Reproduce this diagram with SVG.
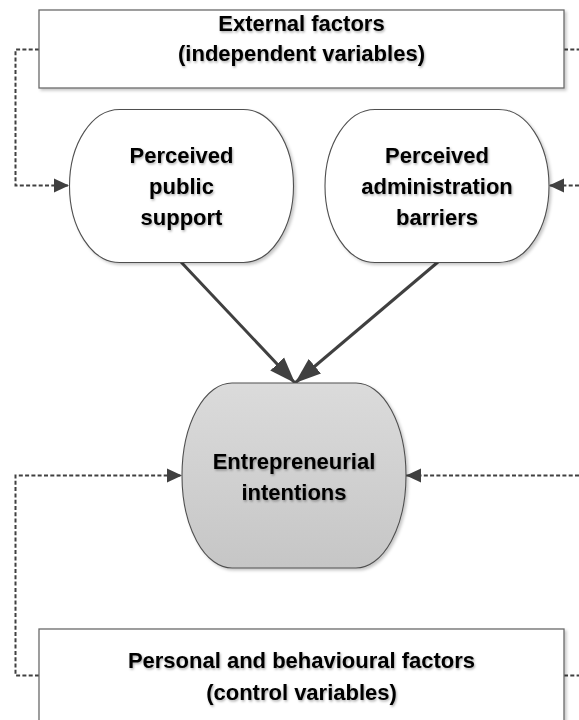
<svg xmlns="http://www.w3.org/2000/svg" width="579" height="720" viewBox="0 0 579 720">
<style>
.box{fill:#fff;stroke:#6a6a6a;stroke-width:1.3}
.oval{fill:#fff;stroke:#505050;stroke-width:1.1}
.core{fill:url(#g);stroke:#505050;stroke-width:1.1}
.t{font-family:"Liberation Sans",Arial,sans-serif;font-weight:bold;font-size:22px;fill:#000;text-anchor:middle}
.dash{fill:none;stroke:#404040;stroke-width:2;stroke-dasharray:4 2.3}
.solid{fill:none;stroke:#404040;stroke-width:3}
</style>
<defs>
<linearGradient id="g" x1="0" y1="0" x2="0" y2="1">
<stop offset="0" stop-color="#dbdbdb"/>
<stop offset="1" stop-color="#c6c6c6"/>
</linearGradient>
<filter id="sh" x="-10%" y="-10%" width="125%" height="125%">
<feDropShadow dx="2" dy="2" stdDeviation="1.5" flood-color="#000" flood-opacity="0.22"/>
</filter>
<filter id="ts" x="-5%" y="-20%" width="110%" height="150%">
<feDropShadow dx="1" dy="1.5" stdDeviation="1.2" flood-color="#000" flood-opacity="0.32"/>
</filter>
<marker id="ad" markerUnits="userSpaceOnUse" markerWidth="16" markerHeight="15" refX="15" refY="7" orient="auto" viewBox="0 0 16 14">
<path d="M0,0 L15,7 L0,14 Z" fill="#404040"/>
</marker>
<marker id="as" markerUnits="userSpaceOnUse" markerWidth="27" markerHeight="20" refX="26" refY="9.5" orient="auto" viewBox="0 0 27 19">
<path d="M0,0 L26,9.5 L0,19 Z" fill="#404040"/>
</marker>
</defs>

<g id="connectors">
<path class="dash" d="M39,49.5 H15.5 V185.5 H69" marker-end="url(#ad)"/>
<path class="dash" d="M564,49.5 H579"/>
<path class="dash" d="M579,185.5 H549" marker-end="url(#ad)"/>
<path class="dash" d="M39,675.5 H15.5 V475.5 H182" marker-end="url(#ad)"/>
<path class="dash" d="M579,475.5 H406" marker-end="url(#ad)"/>
<path class="dash" d="M564,675.5 H579"/>
<path class="solid" d="M181,262 L295,383" marker-end="url(#as)"/>
<path class="solid" d="M438,262 L295,383" marker-end="url(#as)"/>
</g>

<g id="external-factors">
<rect class="box" x="39" y="10" width="525" height="78" filter="url(#sh)"/>
<g filter="url(#ts)">
<text class="t" x="301.5" y="31">External factors</text>
<text class="t" x="301.5" y="61">(independent variables)</text>
</g>
</g>

<g id="perceived-public-support">
<rect class="oval" x="69.5" y="109.5" width="224" height="153" rx="50" ry="76.5" filter="url(#sh)"/>
<g filter="url(#ts)">
<text class="t" x="181.5" y="163">Perceived</text>
<text class="t" x="181.5" y="194">public</text>
<text class="t" x="181.5" y="225">support</text>
</g>
</g>

<g id="perceived-administration-barriers">
<rect class="oval" x="325" y="109.5" width="224" height="153" rx="50" ry="76.5" filter="url(#sh)"/>
<g filter="url(#ts)">
<text class="t" x="437" y="163">Perceived</text>
<text class="t" x="437" y="194">administration</text>
<text class="t" x="437" y="225">barriers</text>
</g>
</g>

<g id="entrepreneurial-intentions">
<rect class="core" x="182" y="383" width="224" height="185" rx="50" ry="92.5" filter="url(#sh)"/>
<g filter="url(#ts)">
<text class="t" x="294" y="469">Entrepreneurial</text>
<text class="t" x="294" y="500">intentions</text>
</g>
</g>

<g id="personal-behavioural-factors">
<rect class="box" x="39" y="629" width="525" height="110" filter="url(#sh)"/>
<g filter="url(#ts)">
<text class="t" x="301.5" y="668">Personal and behavioural factors</text>
<text class="t" x="301.5" y="700">(control variables)</text>
</g>
</g>
</svg>
